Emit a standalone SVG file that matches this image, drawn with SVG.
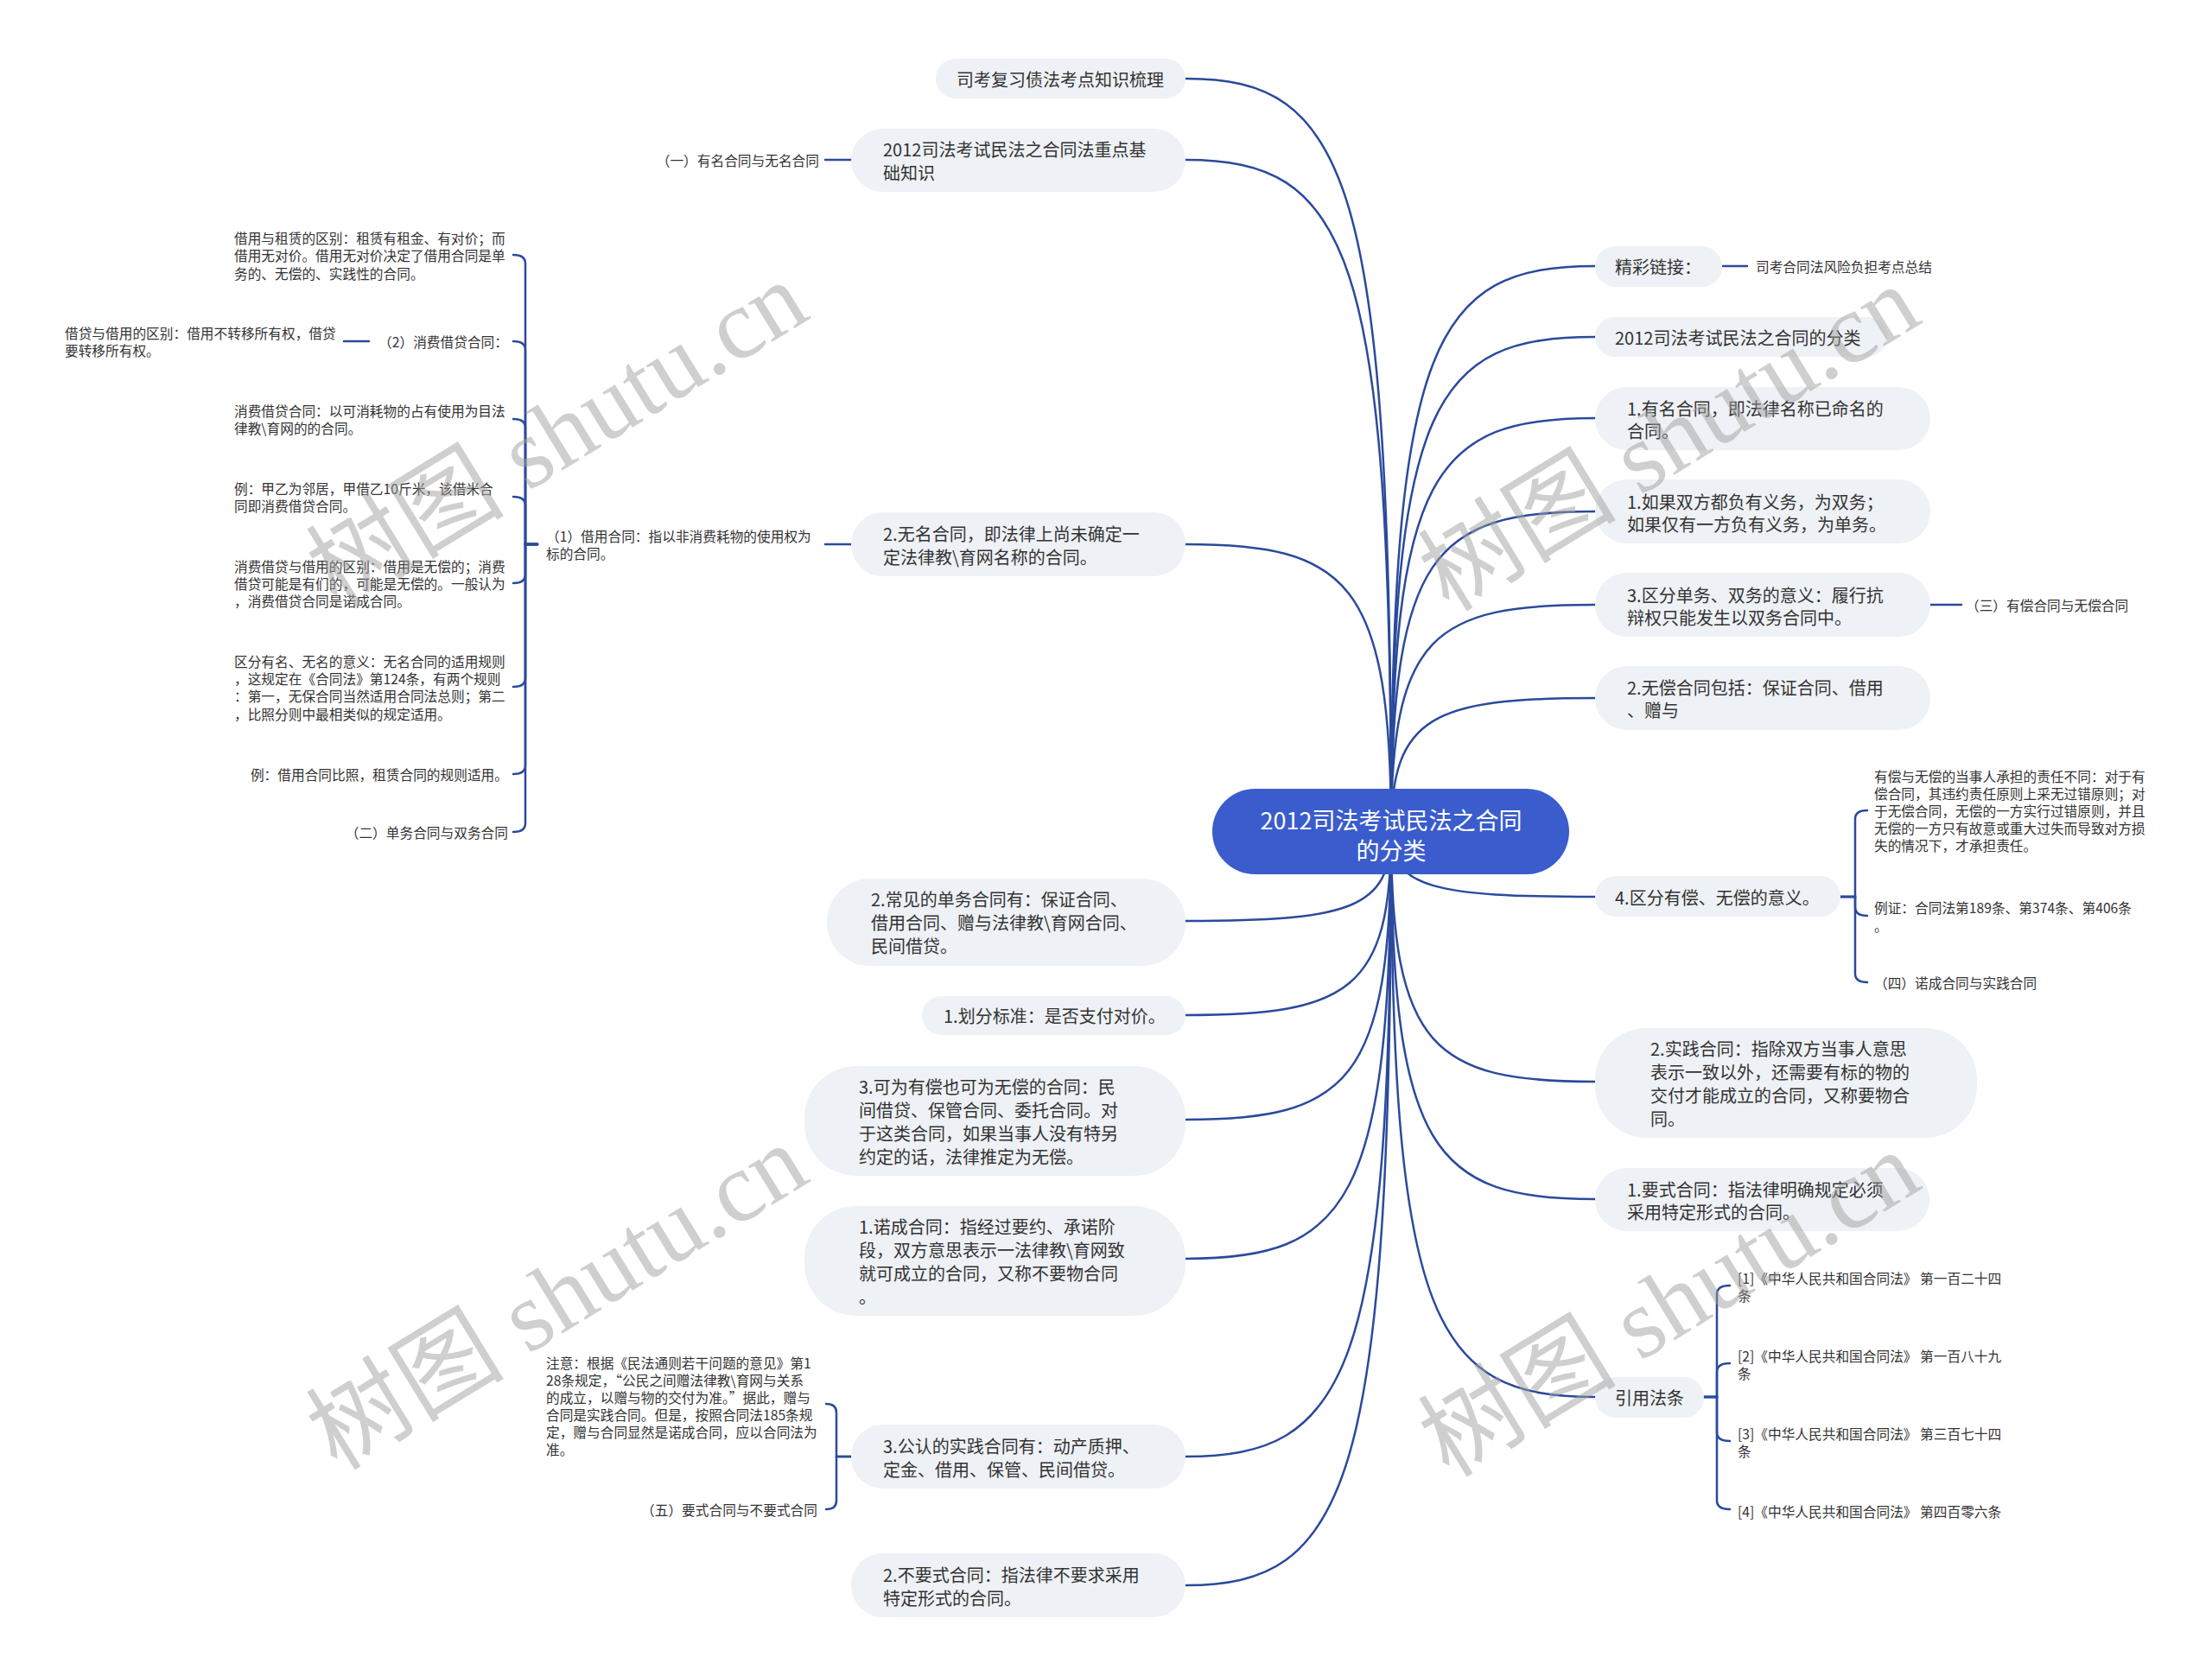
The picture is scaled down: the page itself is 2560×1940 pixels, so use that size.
<svg xmlns="http://www.w3.org/2000/svg" width="2560" height="1940" viewBox="0 0 2560 1940">
<style>
.bg{fill:#ffffff}
.n{fill:#eef1f5}
.root{fill:#3a5ccc}
.t{font-family:"Noto Sans CJK SC","Liberation Sans",sans-serif;font-size:20px;fill:#333333;dominant-baseline:central}
.s{font-family:"Noto Sans CJK SC","Liberation Sans",sans-serif;font-size:15.7px;fill:#333333;dominant-baseline:central}
.rt{font-family:"Noto Sans CJK SC","Liberation Sans",sans-serif;font-size:27px;fill:#ffffff;dominant-baseline:central;text-anchor:middle}
.e{text-anchor:end}
.ln{fill:none;stroke:#2b4a9c;stroke-width:2.5;stroke-linecap:round}
.wm{font-family:"Liberation Serif","Noto Sans CJK SC",serif;font-size:115px;fill:#a0a0a0;opacity:0.5;text-anchor:middle;dominant-baseline:central}
</style>
<rect class="bg" x="0" y="0" width="2560" height="1940"/>

<g id="connectors">
  <path class="ln" d="M1372,91 C1560,91 1610,204 1610,963"/>
  <path class="ln" d="M1372,185 C1560,185 1610,286 1610,963"/>
  <path class="ln" d="M1372,630 C1560,630 1610,673 1610,963"/>
  <path class="ln" d="M1372,1066 C1560,1066 1610,1053 1610,963"/>
  <path class="ln" d="M1372,1175 C1560,1175 1610,1147 1610,963"/>
  <path class="ln" d="M1372,1296 C1560,1296 1610,1253 1610,963"/>
  <path class="ln" d="M1372,1457 C1560,1457 1610,1393 1610,963"/>
  <path class="ln" d="M1372,1686 C1560,1686 1610,1592 1610,963"/>
  <path class="ln" d="M1372,1835 C1560,1835 1610,1722 1610,963"/>
  <path class="ln" d="M1846,308 C1660,308 1610,393 1610,963"/>
  <path class="ln" d="M1846,390 C1660,390 1610,464 1610,963"/>
  <path class="ln" d="M1846,484 C1660,484 1610,546 1610,963"/>
  <path class="ln" d="M1846,592 C1660,592 1610,640 1610,963"/>
  <path class="ln" d="M1846,700 C1660,700 1610,734 1610,963"/>
  <path class="ln" d="M1846,808 C1660,808 1610,828 1610,963"/>
  <path class="ln" d="M1846,1038 C1660,1038 1610,1028 1610,963"/>
  <path class="ln" d="M1846,1252 C1660,1252 1610,1214 1610,963"/>
  <path class="ln" d="M1846,1388 C1660,1388 1610,1333 1610,963"/>
  <path class="ln" d="M1846,1617 C1660,1617 1610,1532 1610,963"/>
  <!-- stubs -->
  <path class="ln" d="M955,185H985"/>
  <path class="ln" d="M955,630H985"/>
  <path class="ln" d="M398,395H427"/>
  <path class="ln" d="M1994,308H2022"/>
  <path class="ln" d="M2234,700H2270"/>
  <!-- left big bracket -->
  <path class="ln" d="M622,630H608V305Q608,295 594,295"/>
  <path class="ln" d="M622,630H608V405Q608,395 594,395"/>
  <path class="ln" d="M622,630H608V495Q608,485 594,485"/>
  <path class="ln" d="M622,630H608V585Q608,575 594,575"/>
  <path class="ln" d="M622,630H608V665Q608,675 594,675"/>
  <path class="ln" d="M622,630H608V785Q608,795 594,795"/>
  <path class="ln" d="M622,630H608V886Q608,896 594,896"/>
  <path class="ln" d="M622,630H608V953Q608,963 594,963"/>
  <!-- lower-left bracket -->
  <path class="ln" d="M985,1686H968V1635Q968,1625 956,1625"/>
  <path class="ln" d="M985,1686H968V1737Q968,1747 956,1747"/>
  <!-- right bracket 4 -->
  <path class="ln" d="M2130,1038H2147V948Q2147,938 2161,938"/>
  <path class="ln" d="M2130,1038H2147V1050Q2147,1060 2161,1060"/>
  <path class="ln" d="M2130,1038H2147V1127Q2147,1137 2161,1137"/>
  <!-- right bracket refs -->
  <path class="ln" d="M1972,1617H1987V1498Q1987,1488 2002,1488"/>
  <path class="ln" d="M1972,1617H1987V1588Q1987,1578 2002,1578"/>
  <path class="ln" d="M1972,1617H1987V1658Q1987,1668 2002,1668"/>
  <path class="ln" d="M1972,1617H1987V1737Q1987,1747 2002,1747"/>
</g>

<g id="root">
  <rect class="root" x="1403" y="913" width="413" height="99" rx="49.5"/>
  <text class="rt"><tspan x="1610" y="948">2012司法考试民法之合同</tspan><tspan x="1610" y="983">的分类</tspan></text>
</g>

<g id="n-left1">
  <rect class="n" x="1083" y="68" width="289" height="46" rx="23"/>
  <text class="t" x="1107" y="91">司考复习债法考点知识梳理</text>
</g>
<g id="n-left2">
  <rect class="n" x="985" y="149" width="387" height="73" rx="36.5"/>
  <text class="t"><tspan x="1022" y="172">2012司法考试民法之合同法重点基</tspan><tspan x="1022" y="199">础知识</tspan></text>
</g>
<g id="n-left2-c">
  <text class="s e" x="948" y="185">（一）有名合同与无名合同</text>
</g>
<g id="n-left3">
  <rect class="n" x="985" y="593" width="387" height="74" rx="37"/>
  <text class="t"><tspan x="1022" y="617">2.无名合同，即法律上尚未确定一</tspan><tspan x="1022" y="644">定法律教\育网名称的合同。</tspan></text>
</g>
<g id="n-jieyong">
  <text class="s"><tspan x="632" y="620">（1）借用合同：指以非消费耗物的使用权为</tspan><tspan x="632" y="640">标的合同。</tspan></text>
</g>
<g id="n-jy1">
  <text class="s"><tspan x="271" y="275">借用与租赁的区别：租赁有租金、有对价；而</tspan><tspan x="271" y="295">借用无对价。借用无对价决定了借用合同是单</tspan><tspan x="271" y="316">务的、无偿的、实践性的合同。</tspan></text>
</g>
<g id="n-jy2">
  <text class="s e" x="588" y="395">（2）消费借贷合同：</text>
</g>
<g id="n-jy2c">
  <text class="s"><tspan x="75" y="385">借贷与借用的区别：借用不转移所有权，借贷</tspan><tspan x="75" y="405">要转移所有权。</tspan></text>
</g>
<g id="n-jy3">
  <text class="s"><tspan x="271" y="475">消费借贷合同：以可消耗物的占有使用为目法</tspan><tspan x="271" y="495">律教\育网的的合同。</tspan></text>
</g>
<g id="n-jy4">
  <text class="s"><tspan x="271" y="565">例：甲乙为邻居，甲借乙10斤米，该借米合</tspan><tspan x="271" y="585">同即消费借贷合同。</tspan></text>
</g>
<g id="n-jy5">
  <text class="s"><tspan x="271" y="655">消费借贷与借用的区别：借用是无偿的；消费</tspan><tspan x="271" y="675">借贷可能是有们的，可能是无偿的。一般认为</tspan><tspan x="271" y="695">，消费借贷合同是诺成合同。</tspan></text>
</g>
<g id="n-jy6">
  <text class="s"><tspan x="271" y="765">区分有名、无名的意义：无名合同的适用规则</tspan><tspan x="271" y="785">，这规定在《合同法》第124条，有两个规则</tspan><tspan x="271" y="805">：第一，无保合同当然适用合同法总则；第二</tspan><tspan x="271" y="826">，比照分则中最相类似的规定适用。</tspan></text>
</g>
<g id="n-jy7">
  <text class="s e" x="588" y="896">例：借用合同比照，租赁合同的规则适用。</text>
</g>
<g id="n-jy8">
  <text class="s e" x="588" y="963">（二）单务合同与双务合同</text>
</g>

<g id="n-left4">
  <rect class="n" x="957" y="1017" width="415" height="101" rx="50"/>
  <text class="t"><tspan x="1008" y="1040">2.常见的单务合同有：保证合同、</tspan><tspan x="1008" y="1067">借用合同、赠与法律教\育网合同、</tspan><tspan x="1008" y="1094">民间借贷。</tspan></text>
</g>
<g id="n-left5">
  <rect class="n" x="1067" y="1153" width="305" height="45" rx="22.5"/>
  <text class="t" x="1092" y="1175">1.划分标准：是否支付对价。</text>
</g>
<g id="n-left6">
  <rect class="n" x="931" y="1234" width="441" height="127" rx="60"/>
  <text class="t"><tspan x="994" y="1257">3.可为有偿也可为无偿的合同：民</tspan><tspan x="994" y="1284">间借贷、保管合同、委托合同。对</tspan><tspan x="994" y="1311">于这类合同，如果当事人没有特另</tspan><tspan x="994" y="1338">约定的话，法律推定为无偿。</tspan></text>
</g>
<g id="n-left7">
  <rect class="n" x="931" y="1396" width="441" height="127" rx="60"/>
  <text class="t"><tspan x="994" y="1419">1.诺成合同：指经过要约、承诺阶</tspan><tspan x="994" y="1446">段，双方意思表示一法律教\育网致</tspan><tspan x="994" y="1473">就可成立的合同，又称不要物合同</tspan><tspan x="994" y="1500">。</tspan></text>
</g>
<g id="n-left8">
  <rect class="n" x="985" y="1649" width="387" height="74" rx="37"/>
  <text class="t"><tspan x="1022" y="1673">3.公认的实践合同有：动产质押、</tspan><tspan x="1022" y="1700">定金、借用、保管、民间借贷。</tspan></text>
</g>
<g id="n-left8-c1">
  <text class="s"><tspan x="632" y="1577">注意：根据《民法通则若干问题的意见》第1</tspan><tspan x="632" y="1597">28条规定，“公民之间赠法律教\育网与关系</tspan><tspan x="632" y="1617">的成立，以赠与物的交付为准。”据此，赠与</tspan><tspan x="632" y="1637">合同是实践合同。但是，按照合同法185条规</tspan><tspan x="632" y="1657">定，赠与合同显然是诺成合同，应以合同法为</tspan><tspan x="632" y="1677">准。</tspan></text>
</g>
<g id="n-left8-c2">
  <text class="s e" x="946" y="1747">（五）要式合同与不要式合同</text>
</g>
<g id="n-left9">
  <rect class="n" x="985" y="1798" width="387" height="74" rx="37"/>
  <text class="t"><tspan x="1022" y="1822">2.不要式合同：指法律不要求采用</tspan><tspan x="1022" y="1849">特定形式的合同。</tspan></text>
</g>

<g id="n-right1">
  <rect class="n" x="1846" y="285" width="147" height="47" rx="23.5"/>
  <text class="t" x="1869" y="308">精彩链接：</text>
</g>
<g id="n-right1-c">
  <text class="s" x="2032" y="308">司考合同法风险负担考点总结</text>
</g>
<g id="n-right2">
  <rect class="n" x="1846" y="367" width="338" height="46" rx="23"/>
  <text class="t" x="1869" y="390">2012司法考试民法之合同的分类</text>
</g>
<g id="n-right3">
  <rect class="n" x="1846" y="448" width="388" height="73" rx="36.5"/>
  <text class="t"><tspan x="1883" y="472">1.有名合同，即法律名称已命名的</tspan><tspan x="1883" y="498">合同。</tspan></text>
</g>
<g id="n-right4">
  <rect class="n" x="1846" y="555" width="388" height="74" rx="37"/>
  <text class="t"><tspan x="1883" y="580">1.如果双方都负有义务，为双务；</tspan><tspan x="1883" y="606">如果仅有一方负有义务，为单务。</tspan></text>
</g>
<g id="n-right5">
  <rect class="n" x="1846" y="663" width="388" height="74" rx="37"/>
  <text class="t"><tspan x="1883" y="688">3.区分单务、双务的意义：履行抗</tspan><tspan x="1883" y="714">辩权只能发生以双务合同中。</tspan></text>
</g>
<g id="n-right5-c">
  <text class="s" x="2275" y="700">（三）有偿合同与无偿合同</text>
</g>
<g id="n-right6">
  <rect class="n" x="1846" y="771" width="388" height="74" rx="37"/>
  <text class="t"><tspan x="1883" y="795">2.无偿合同包括：保证合同、借用</tspan><tspan x="1883" y="821">、赠与</tspan></text>
</g>
<g id="n-right7">
  <rect class="n" x="1846" y="1014" width="284" height="47" rx="23.5"/>
  <text class="t" x="1869" y="1038">4.区分有偿、无偿的意义。</text>
</g>
<g id="n-right7-c1">
  <text class="s"><tspan x="2169" y="898">有偿与无偿的当事人承担的责任不同：对于有</tspan><tspan x="2169" y="918">偿合同，其违约责任原则上采无过错原则；对</tspan><tspan x="2169" y="938">于无偿合同，无偿的一方实行过错原则，并且</tspan><tspan x="2169" y="958">无偿的一方只有故意或重大过失而导致对方损</tspan><tspan x="2169" y="978">失的情况下，才承担责任。</tspan></text>
</g>
<g id="n-right7-c2">
  <text class="s"><tspan x="2169" y="1050">例证：合同法第189条、第374条、第406条</tspan><tspan x="2169" y="1071">。</tspan></text>
</g>
<g id="n-right7-c3">
  <text class="s" x="2169" y="1137">（四）诺成合同与实践合同</text>
</g>
<g id="n-right8">
  <rect class="n" x="1846" y="1190" width="442" height="127" rx="60"/>
  <text class="t"><tspan x="1910" y="1213">2.实践合同：指除双方当事人意思</tspan><tspan x="1910" y="1240">表示一致以外，还需要有标的物的</tspan><tspan x="1910" y="1267">交付才能成立的合同，又称要物合</tspan><tspan x="1910" y="1294">同。</tspan></text>
</g>
<g id="n-right9">
  <rect class="n" x="1846" y="1352" width="387" height="73" rx="36.5"/>
  <text class="t"><tspan x="1883" y="1376">1.要式合同：指法律明确规定必须</tspan><tspan x="1883" y="1402">采用特定形式的合同。</tspan></text>
</g>
<g id="n-right10">
  <rect class="n" x="1846" y="1594" width="126" height="47" rx="23.5"/>
  <text class="t" x="1869" y="1617">引用法条</text>
</g>
<g id="n-ref1">
  <text class="s"><tspan x="2011" y="1479">[1]《中华人民共和国合同法》 第一百二十四</tspan><tspan x="2011" y="1499">条</tspan></text>
</g>
<g id="n-ref2">
  <text class="s"><tspan x="2011" y="1569">[2]《中华人民共和国合同法》 第一百八十九</tspan><tspan x="2011" y="1589">条</tspan></text>
</g>
<g id="n-ref3">
  <text class="s"><tspan x="2011" y="1659">[3]《中华人民共和国合同法》 第三百七十四</tspan><tspan x="2011" y="1679">条</tspan></text>
</g>
<g id="n-ref4">
  <text class="s" x="2011" y="1749">[4]《中华人民共和国合同法》 第四百零六条</text>
</g>

<g id="watermark">
  <text class="wm" transform="translate(645,503) rotate(-31.5)">树图 shutu.cn</text>
  <text class="wm" transform="translate(1932,508) rotate(-31.5)">树图 shutu.cn</text>
  <text class="wm" transform="translate(645,1502) rotate(-31.5)">树图 shutu.cn</text>
  <text class="wm" transform="translate(1932,1510) rotate(-31.5)">树图 shutu.cn</text>
</g>
</svg>
